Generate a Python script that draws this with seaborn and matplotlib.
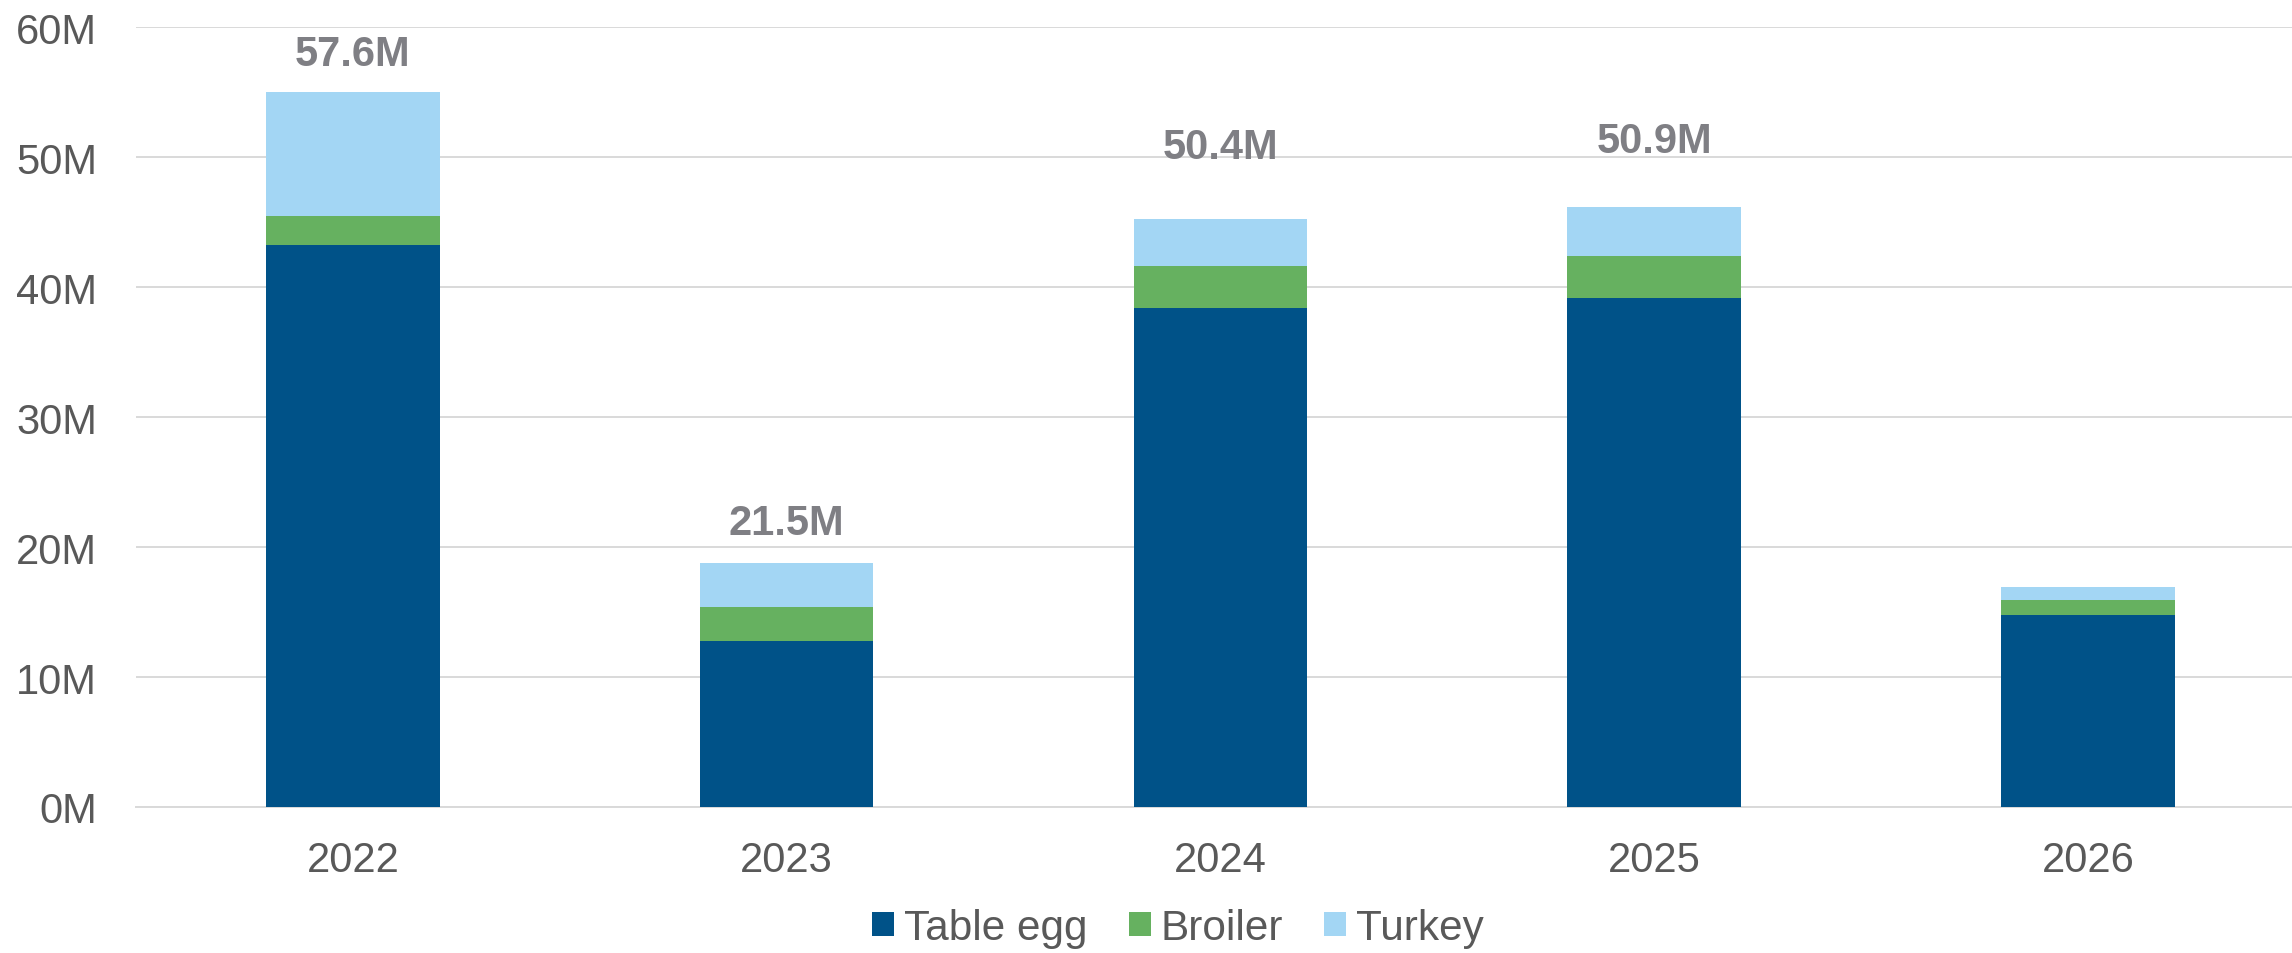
import matplotlib
matplotlib.use("Agg")
import matplotlib.pyplot as plt
import seaborn as sns
import pandas as pd
from matplotlib.patches import Patch

# ---- data (millions of birds) ----
years = ["2022", "2023", "2024", "2025", "2026"]
table_egg = [43.2, 12.8, 38.4, 39.15, 14.8]
broiler = [2.3, 2.55, 3.2, 3.2, 1.15]
turkey = [9.5, 3.45, 3.65, 3.8, 0.95]
total_labels = ["57.6M", "21.5M", "50.4M", "50.9M", ""]
total_label_values = [57.6, 21.5, 50.4, 50.9, None]
series_names = ["Table egg", "Broiler", "Turkey"]
y_ticks = [0, 10, 20, 30, 40, 50, 60]

colors = {"Table egg": "#005288", "Broiler": "#66B160", "Turkey": "#A3D6F4"}

sns.set_theme(style="white")
plt.rcParams["font.family"] = ["Liberation Sans", "DejaVu Sans"]

fig = plt.figure(figsize=(22.92, 9.54), dpi=100)
ax = fig.add_axes([136 / 2292, 1 - 808 / 954, 5 * 433.75 / 2292, (808 - 28) / 954])

df = pd.DataFrame({"year": years, "Table egg": table_egg, "Broiler": broiler, "Turkey": turkey})
df["c1"] = df["Table egg"]
df["c2"] = df["c1"] + df["Broiler"]
df["c3"] = df["c2"] + df["Turkey"]

# draw cumulative bars tallest first so they appear stacked
for col, name in [("c3", "Turkey"), ("c2", "Broiler"), ("c1", "Table egg")]:
    sns.barplot(data=df, x="year", y=col, order=years, color=colors[name],
                saturation=1, width=0.4, ax=ax, linewidth=0, zorder=3)

ax.set_xlim(-0.5, 4.5)
ax.set_ylim(0, 60)
ax.set_yticks(y_ticks)
ax.set_yticklabels([f"{t}M" for t in y_ticks])
ax.set_xlabel("")
ax.set_ylabel("")

ax.grid(axis="y", color="#D9D9D9", linewidth=1.4, zorder=0)
ax.set_axisbelow(True)
for s in ["top", "right", "left"]:
    ax.spines[s].set_visible(False)
ax.spines["bottom"].set_color("#D9D9D9")
ax.spines["bottom"].set_linewidth(1.4)

ax.tick_params(axis="y", length=0, pad=28, labelsize=30, labelcolor="#595959")
ax.tick_params(axis="x", length=0, pad=24, labelsize=30, labelcolor="#595959")

for i, (lab, val) in enumerate(zip(total_labels, total_label_values)):
    if val is None or not lab:
        continue
    ax.text(i, val - 0.5, lab, ha="center", va="baseline", fontsize=30,
            fontweight="bold", color="#7F7F84", zorder=5)

handles = [Patch(facecolor=colors[n], edgecolor="none", label=n) for n in series_names]
fig.legend(handles=handles, loc="center", bbox_to_anchor=(1178 / 2292, 1 - 929 / 954),
           ncol=3, frameon=False, fontsize=30.4, handlelength=0.52, handleheight=0.52,
           handletextpad=0.24, columnspacing=0.97, labelcolor="#595959")

fig.savefig("out.png", dpi=100)
